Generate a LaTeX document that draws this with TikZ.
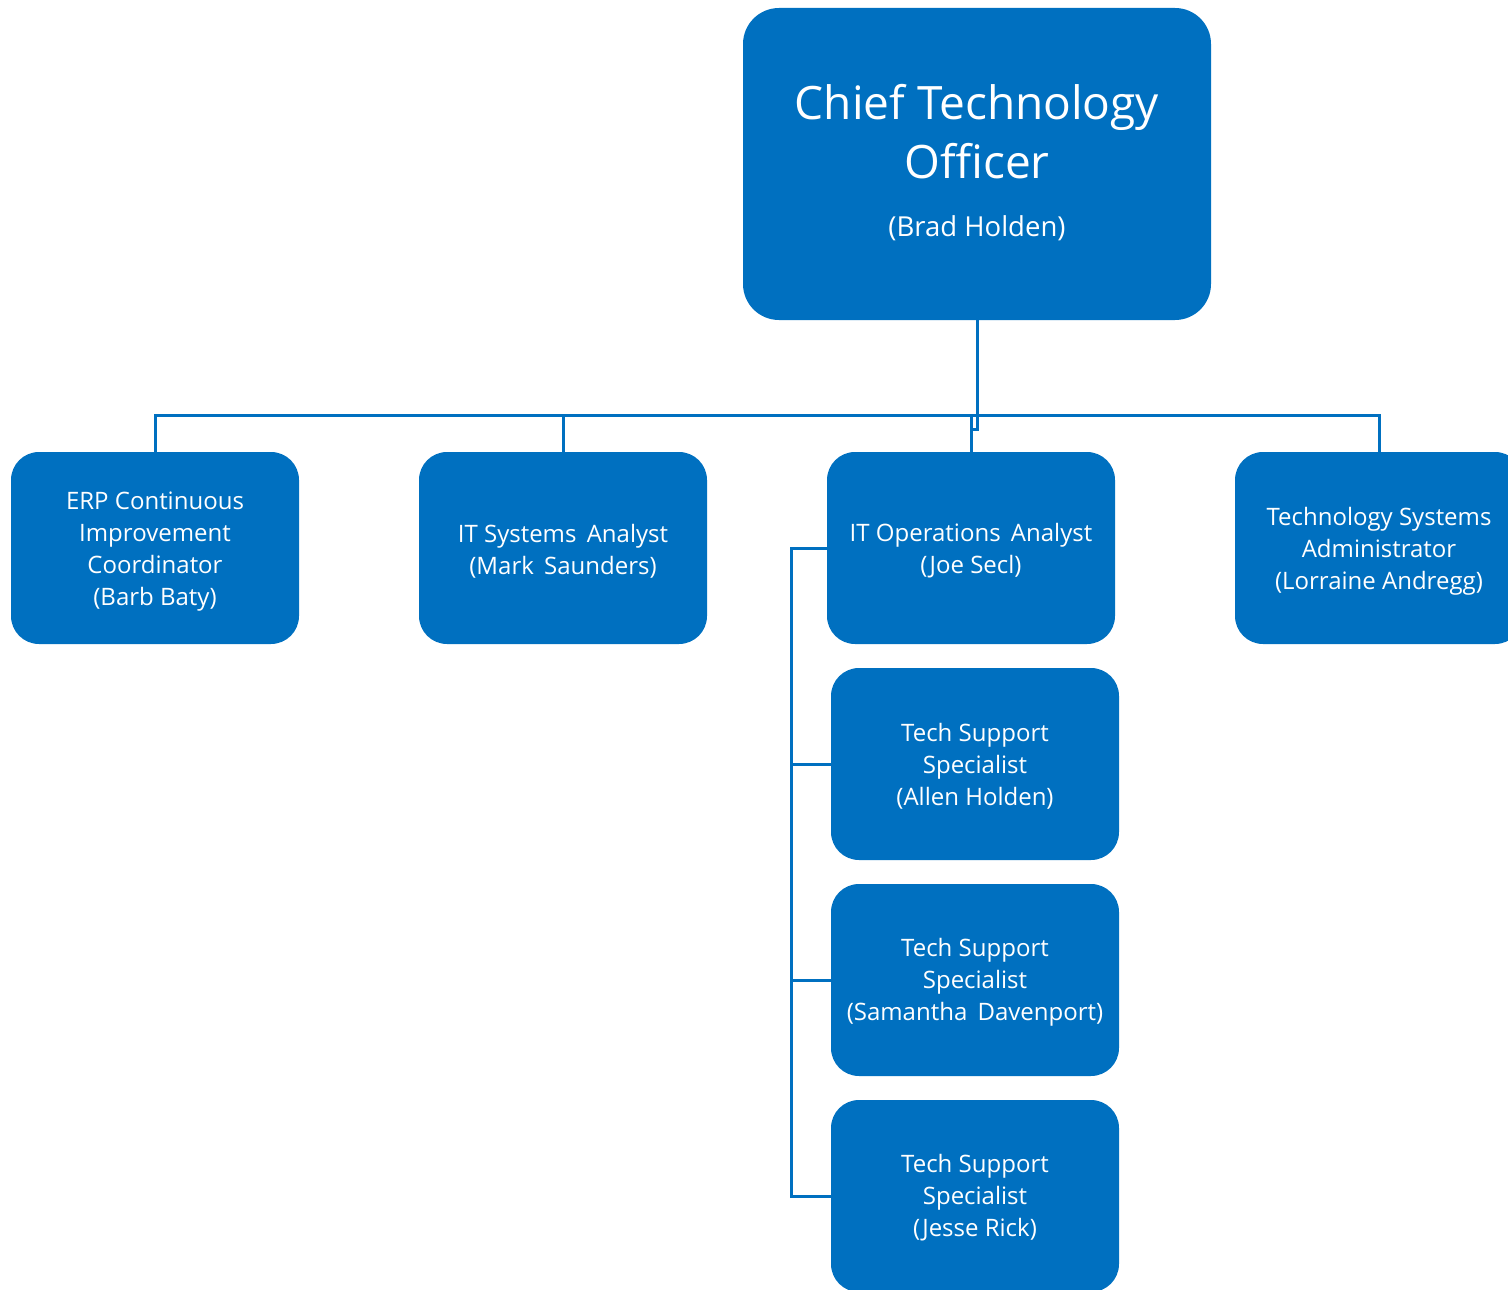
\documentclass[tikz,border=0pt]{standalone}
\usepackage{fontspec}
\setmainfont{Open Sans}
\usepackage{tikz}
\definecolor{ocblue}{HTML}{0070C0}
\tikzstyle{role box}=[fill=ocblue, rounded corners=28pt, minimum width=288pt, minimum height=192pt, inner sep=0pt]
\tikzstyle{top box}=[role box, rounded corners=36pt, minimum width=468pt, minimum height=312pt]
\tikzstyle{role text}=[text=white, align=center, inner sep=0pt, font=\fontsize{24}{32}\selectfont]
\tikzstyle{top text}=[role text, font=\fontsize{46}{59}\selectfont]
\tikzstyle{org line}=[draw=ocblue, line width=3pt]

\begin{document}
\begin{tikzpicture}[x=1pt, y=-1pt]
		\useasboundingbox (0,0) rectangle (1508,1290);

		\node [style=top box]   (cto) at (977, 164) {};
		\node [style=role box]  (erp) at (155, 548) {};
		\node [style=role box]  (itsys) at (563, 548) {};
		\node [style=role box]  (itops) at (971, 548) {};
		\node [style=role box]  (tsa) at (1379, 548) {};
		\node [style=role box]  (ts1) at (975, 764) {};
		\node [style=role box]  (ts2) at (975, 980) {};
		\node [style=role box]  (ts3) at (975, 1196) {};

		\node [style=top text]  (cto-t) at ([yshift=1pt]cto.center) {Chief Technology\\Officer\\[-1pt]{\fontsize{27.5}{32}\selectfont (Brad Holden)}};
		\node [style=role text] (erp-t) at ([yshift=-3.5pt]erp.center) {ERP Continuous\\Improvement\\Coordinator\\(Barb Baty)};
		\node [style=role text] (itsys-t) at ([yshift=-3pt]itsys.center) {IT Systems\ \,Analyst\\(Mark\ \,Saunders)};
		\node [style=role text] (itops-t) at ([yshift=-3pt]itops.center) {IT Operations\ \,Analyst\\(Joe Secl)};
		\node [style=role text] (tsa-t) at ([yshift=-3pt]tsa.center) {Technology Systems\\Administrator\\(Lorraine Andregg)};
		\node [style=role text] (ts1-t) at ([yshift=-2pt]ts1.center) {Tech Support\\Specialist\\(Allen Holden)};
		\node [style=role text] (ts2-t) at ([yshift=-2pt]ts2.center) {Tech Support\\Specialist\\(Samantha\ \,Davenport)};
		\node [style=role text] (ts3-t) at ([yshift=-2pt]ts3.center) {Tech Support\\Specialist\\(Jesse Rick)};

		\coordinate (spine) at (791, 548);

		\draw [style=org line] (cto.south) -- ++(0, 109) -- ++(-6, 0);
		\draw [style=org line] (erp.north) -- ++(0, -36) -| (tsa.north);
		\draw [style=org line] (itsys.north) -- ++(0, -36);
		\draw [style=org line] (itops.north) -- ++(0, -36);
		\draw [style=org line] (itops.west) -- (spine) |- (ts3.west);
		\draw [style=org line] (ts1.west) -- (ts1.west -| spine);
		\draw [style=org line] (ts2.west) -- (ts2.west -| spine);

\end{tikzpicture}
\end{document}
